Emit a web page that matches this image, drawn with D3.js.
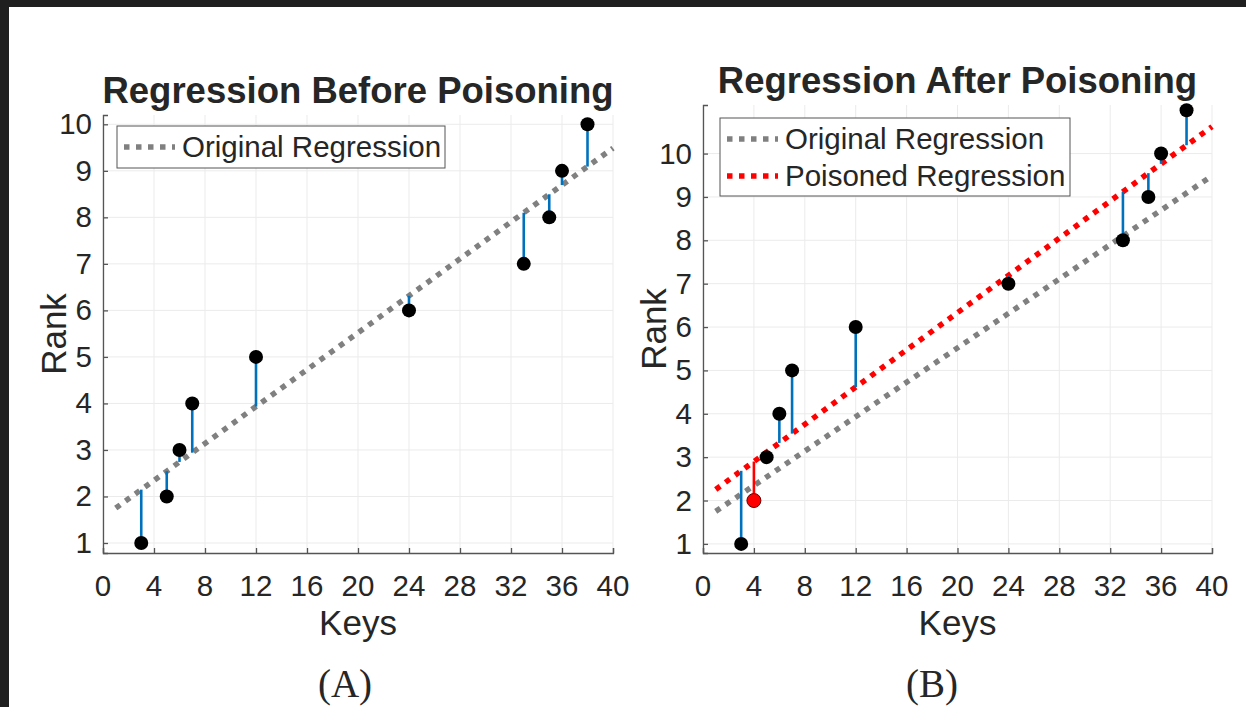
<!DOCTYPE html>
<html>
<head>
<meta charset="utf-8">
<script src="https://cdn.jsdelivr.net/npm/d3@7"></script>
<style>
  html, body { margin: 0; padding: 0; background: #1e1e1e; }
  svg { display: block; }
  text { font-family: "Liberation Sans", Arial, Helvetica, sans-serif; fill: #262626; }
</style>
</head>
<body>
<svg id="chart" width="1246" height="707"></svg>
<script>
// data
const keysA = [3, 5, 6, 7, 12, 24, 33, 35, 36, 38];
const rankA = [1, 2, 3, 4, 5, 6, 7, 8, 9, 10];

const keysB = [3, 4, 5, 6, 7, 12, 24, 33, 35, 36, 38];
const rankB = [1, 2, 3, 4, 5, 6, 7, 8, 9, 10, 11];
const poisonedKey = 4;

// regression lines (intercept, slope) and span on the keys axis
const originalFit = { b: 1.552, m: 0.1984 };
const poisonedFit = { b: 2.041, m: 0.2145 };
const fitSpan = [1, 40];

const xTicks = [0, 4, 8, 12, 16, 20, 24, 28, 32, 36, 40];
const yTicks = [1, 2, 3, 4, 5, 6, 7, 8, 9, 10];

const svg = d3.select('#chart');

// dark photo border, white page
svg.append('rect').attr('width', 1246).attr('height', 707).attr('fill', '#1f1f1f');
svg.append('rect').attr('x', 9).attr('y', 7).attr('width', 1237).attr('height', 700).attr('fill', '#fff');

const blue = '#0072BD';
const gray = '#808080';
const red = '#ff0000';

function drawPanel(opts) {
  const x = d3.scaleLinear().domain([0, 40]).range(opts.xRange);
  const y = d3.scaleLinear().domain(opts.yDomain).range(opts.yRange);
  const g = svg.append('g');
  const [x0, x1] = opts.xRange;
  const [yb, yt] = opts.yRange;

  // grid
  g.append('g').selectAll('line').data(xTicks).join('line')
    .attr('x1', d => x(d)).attr('x2', d => x(d))
    .attr('y1', yb).attr('y2', yt)
    .attr('stroke', '#ebebeb').attr('stroke-width', 1);
  g.append('g').selectAll('line').data(yTicks).join('line')
    .attr('x1', x0).attr('x2', x1)
    .attr('y1', d => y(d)).attr('y2', d => y(d))
    .attr('stroke', '#ebebeb').attr('stroke-width', 1);

  // axes (ticks point inward)
  const xAxis = d3.axisTop(x).tickValues(xTicks).tickSize(5).tickFormat('');
  const yAxis = d3.axisRight(y).tickValues(yTicks).tickSize(5).tickFormat('');
  const gx = g.append('g').attr('transform', `translate(0,${yb})`).call(xAxis);
  const gy = g.append('g').attr('transform', `translate(${x0},0)`).call(yAxis);
  [gx, gy].forEach(a => {
    a.select('.domain').attr('stroke', '#555').attr('stroke-width', 1.3);
    a.selectAll('.tick line').attr('stroke', '#555').attr('stroke-width', 1.3);
  });

  // tick labels
  g.append('g').selectAll('text').data(xTicks).join('text')
    .attr('x', d => x(d)).attr('y', yb + 43)
    .attr('text-anchor', 'middle').attr('font-size', 29.5)
    .text(d => d);
  g.append('g').selectAll('text').data(yTicks).join('text')
    .attr('x', x0 - 11).attr('y', d => y(d) + 10)
    .attr('text-anchor', 'end').attr('font-size', 29.5)
    .text(d => d);

  // axis labels and title
  g.append('text').attr('x', (x0 + x1) / 2).attr('y', yb + 82)
    .attr('text-anchor', 'middle').attr('font-size', 35).text('Keys');
  g.append('text')
    .attr('transform', `translate(${x0 - 37},${(yb + yt) / 2}) rotate(-90)`)
    .attr('text-anchor', 'middle').attr('font-size', 35).text('Rank');
  g.append('text').attr('x', (x0 + x1) / 2).attr('y', yt - 12)
    .attr('text-anchor', 'middle').attr('font-size', 36.5).attr('font-weight', 'bold')
    .attr('fill', '#000').text(opts.title);

  // regression lines
  const line = fit => d3.line()
    .x(d => x(d))
    .y(d => y(fit.b + fit.m * d));
  opts.fits.forEach(f => {
    g.append('path').datum(fitSpan)
      .attr('d', line(f.fit))
      .attr('fill', 'none').attr('stroke', f.color)
      .attr('stroke-width', 5.5).attr('stroke-dasharray', '5.5,6.5');
  });

  // residual stems to the active fit
  const pts = opts.keys.map((k, i) => ({ k, r: opts.ranks[i], bad: k === opts.bad }));
  g.append('g').selectAll('line').data(pts).join('line')
    .attr('x1', d => x(d.k)).attr('x2', d => x(d.k))
    .attr('y1', d => y(d.r))
    .attr('y2', d => y(opts.stemFit.b + opts.stemFit.m * d.k))
    .attr('stroke', d => d.bad ? red : blue).attr('stroke-width', 2.6);

  g.append('g').selectAll('circle').data(pts).join('circle')
    .attr('cx', d => x(d.k)).attr('cy', d => y(d.r)).attr('r', 7)
    .attr('fill', d => d.bad ? red : '#000')
    .attr('stroke', d => d.bad ? '#600' : 'none').attr('stroke-width', 1);

  // legend
  const lg = g.append('g').attr('transform', `translate(${opts.legend.x},${opts.legend.y})`);
  lg.append('rect').attr('width', opts.legend.w).attr('height', 42 * opts.fits.length + (opts.fits.length > 1 ? -6 : 0))
    .attr('fill', '#fff').attr('stroke', '#555').attr('stroke-width', 1);
  opts.fits.forEach((f, i) => {
    const cy = 21 + i * 37;
    lg.append('line').attr('x1', 7).attr('x2', 58).attr('y1', cy).attr('y2', cy)
      .attr('stroke', f.color).attr('stroke-width', 5.5).attr('stroke-dasharray', '5.5,6.5');
    lg.append('text').attr('x', 65).attr('y', cy + 10).attr('font-size', 29.5)
      .attr('fill', '#000').text(f.name);
  });

  return g;
}

drawPanel({
  title: 'Regression Before Poisoning',
  xRange: [103, 613],
  yDomain: [0.785, 10.2],
  yRange: [553, 115],
  keys: keysA, ranks: rankA, bad: null,
  stemFit: originalFit,
  fits: [{ fit: originalFit, color: gray, name: 'Original Regression' }],
  legend: { x: 117, y: 126, w: 328 }
});

drawPanel({
  title: 'Regression After Poisoning',
  xRange: [703, 1212],
  yDomain: [0.79, 11.12],
  yRange: [553, 105],
  keys: keysB, ranks: rankB, bad: poisonedKey,
  stemFit: poisonedFit,
  fits: [
    { fit: originalFit, color: gray, name: 'Original Regression' },
    { fit: poisonedFit, color: red, name: 'Poisoned Regression' }
  ],
  legend: { x: 720, y: 118, w: 350 }
});

// sub-figure captions
svg.selectAll('text.cap').data(['(A)', '(B)']).join('text')
  .attr('class', 'cap')
  .attr('x', (d, i) => i === 0 ? 345 : 932).attr('y', 697)
  .attr('text-anchor', 'middle')
  .style('font-family', '"Liberation Serif", "Times New Roman", serif')
  .attr('font-size', 39).attr('fill', '#000')
  .text(d => d);
</script>
</body>
</html>
